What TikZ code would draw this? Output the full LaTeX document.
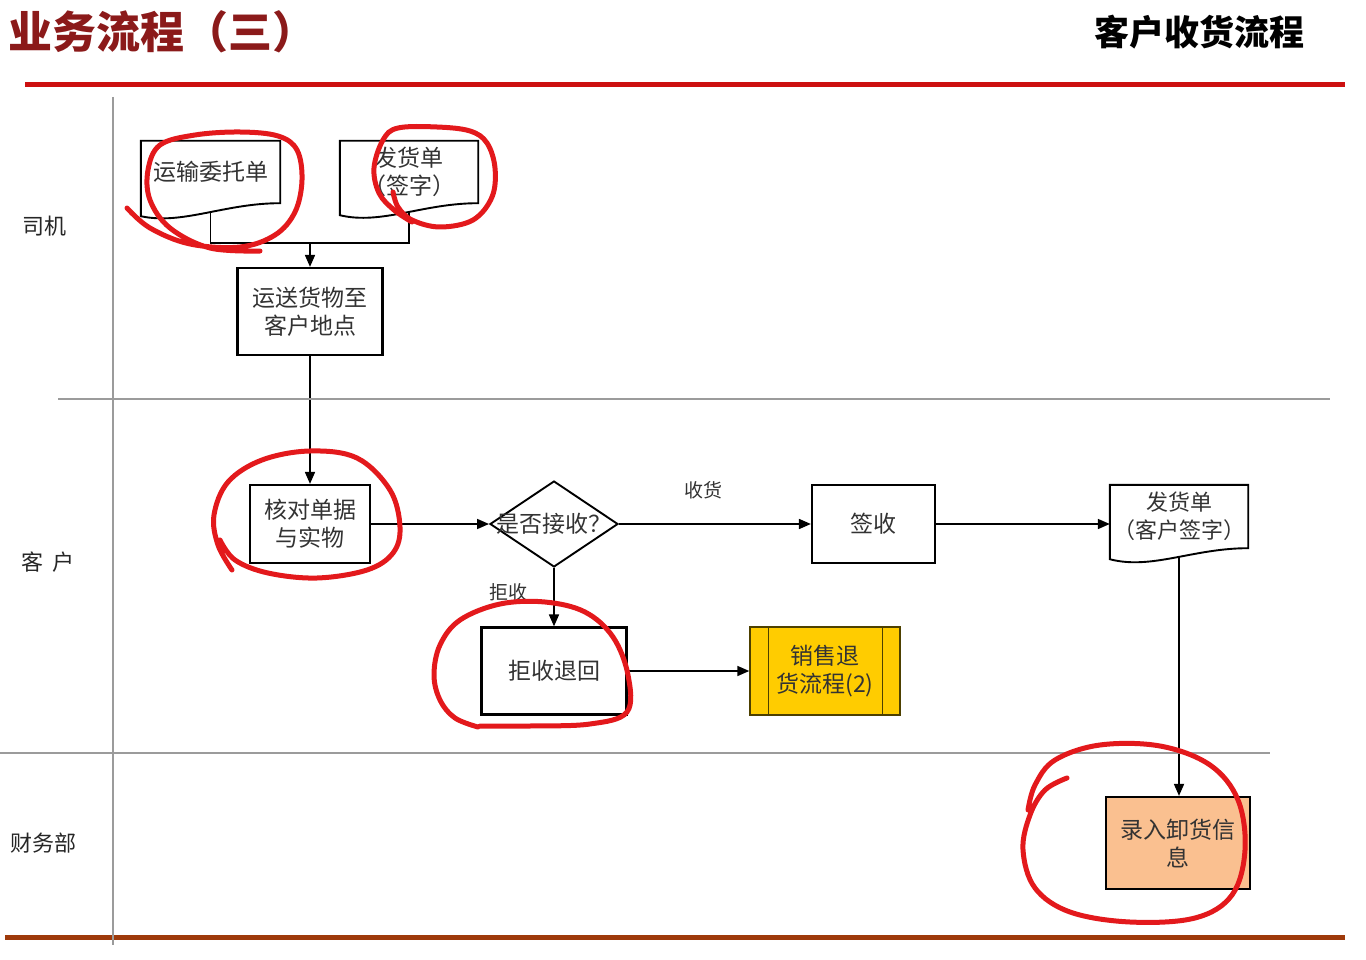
\documentclass[tikz,border=0pt]{standalone}
\usepackage{fontspec}
\setmainfont{Noto Sans CJK SC}
\usetikzlibrary{arrows.meta,shapes.geometric,calc}
\pgfdeclarelayer{background}
\pgfsetlayers{background,main}
\definecolor{headred}{HTML}{CC1010}
\definecolor{titlered}{HTML}{8B1A1A}
\definecolor{footbrown}{HTML}{9E3A0B}
\definecolor{lanegray}{HTML}{9B9B9B}
\definecolor{peach}{HTML}{FAC090}
\definecolor{gold}{HTML}{FFCC00}
\definecolor{ppborder}{HTML}{4D4000}
\definecolor{markred}{HTML}{E3191C}
\definecolor{txtc}{HTML}{333333}
\newcommand{\docwave}[2]{%
 \path[docline] (#1.north west) -- (#1.north east) -- (#1.south east)
  .. controls ($(#1.south east)!0.4!(#1.south west)$) and ($(#1.south west)!0.3!(#1.south east)+(0,22)$)
  .. ($(#1.south west)+(0,#2)$) -- cycle;}
\begin{document}
\begin{tikzpicture}[x=1pt,y=-1pt,
  every node/.style={inner sep=0pt, text=txtc},
  box/.style={draw=black, line width=2.2pt, fill=white, align=center, font=\fontsize{23}{28}\selectfont},
  docnode/.style={align=center, font=\fontsize{23}{28}\selectfont},
  docline/.style={draw=black, line width=1.9pt, fill=white},
  conn/.style={line width=1.7pt, -{Triangle[length=12pt,width=10pt]}},
  plainconn/.style={line width=1.7pt},
  lane/.style={draw=lanegray, line width=1.5pt},
  lanelabel/.style={font=\fontsize{22}{22}\selectfont, text=black!85},
  elabel/.style={font=\fontsize{19}{19}\selectfont},
  redmark/.style={draw=markred, line width=5pt, line cap=round, line join=round},
]
\useasboundingbox (0,0) rectangle (1366,960);

% header
\node[anchor=west, text=titlered, font=\fontsize{44}{44}\selectfont\bfseries] (t1) at (8,32) {业务流程（三）};
\node[text=black, font=\fontsize{35}{35}\selectfont\bfseries] (t2) at (1199,32) {客户收货流程};
\draw[line width=5pt, draw=headred] (25,85) -- (1345,85);
\draw[line width=5pt, draw=footbrown] (5,937) -- (1345,937);

% lanes
\draw[lane] (113,97) -- (113,945);
\draw[lane] (58,399) -- (1330,399);
\draw[lane] (0,753) -- (1270,753);
\node[lanelabel] (l1) at (44,226) {司机};
\node[lanelabel] (l2) at (48,562) {客\hspace{10pt}户};
\node[lanelabel] (l3) at (43,843) {财务部};

% nodes
\node[docnode, minimum width=139pt, minimum height=62pt] (d1) at (210.5,172) {运输委托单};
\node[docnode, minimum width=138pt, minimum height=62pt] (d2) at (409,172) {发货单\\（签字）};
\coordinate (j) at (310,243);
\node[box, minimum width=145pt, minimum height=87pt] (b1) at (310,311.5) {运送货物至\\客户地点};
\node[box, minimum width=120pt, minimum height=78pt] (b2) at (310,524) {核对单据\\与实物};
\node[draw=black, diamond, line width=1.9pt, fill=white, minimum width=128pt, minimum height=86pt, font=\fontsize{23}{28}\selectfont] (dm) at (554,524) {\makebox[0pt]{是否接收？}};
\node[box, minimum width=123pt, minimum height=78pt] (b3) at (873.5,524) {签收};
\node[docnode, minimum width=138pt, minimum height=63pt, font=\fontsize{22}{28}\selectfont] (d3) at (1179,516.5) {发货单\\（客户签字）};
\node[box, fill=peach, minimum width=144pt, minimum height=92pt] (b4) at (1178,843) {录入卸货信\\息};
\node[box, minimum width=145pt, minimum height=87pt] (b5) at (554,671) {拒收退回};
\node[box, fill=gold, draw=ppborder, line width=1.4pt, minimum width=150pt, minimum height=88pt] (pp) at (825,671) {销售退\\货流程(2)};
\draw[draw=ppborder, line width=1.4pt] ($(pp.north west)+(19,0)$) -- ($(pp.south west)+(19,0)$);
\draw[draw=ppborder, line width=1.4pt] ($(pp.north east)+(-18,0)$) -- ($(pp.south east)+(-18,0)$);

% connectors
\begin{pgfonlayer}{background}
\draw[plainconn] (d1.south) -- (d1.south |- j) -- (d2.south |- j) -- (d2.south);
\draw[conn] (j) -- (b1);
\draw[conn] (b1) -- (b2);
\draw[conn] (b2) -- (dm);
\draw[conn] (dm) -- node[elabel, pos=0.44, yshift=34pt] {收货} (b3);
\draw[conn] (b3.east) -- (b3.east -| d3.west);
\draw[conn] (d3.south) -- (d3.south |- b4.north);
\draw[conn] (dm) -- node[elabel, pos=0.42, xshift=-46pt] {拒收} (b5);
\draw[conn] (b5) -- (pp);
\docwave{d1}{13}
\docwave{d2}{12}
\docwave{d3}{11}
\end{pgfonlayer}

% red hand-drawn marks
\draw[redmark] plot[smooth, tension=0.6] coordinates {(127,208) (150,228) (190,244) (240,247) (275,235) (295,212) (302,180) (297,150) (278,136) (240,132) (195,135) (160,145) (148,170) (150,200) (170,228) (210,248) (260,251)};
\draw[redmark] plot[smooth, tension=0.6] coordinates {(393,192) (398,207) (412,220) (440,227) (473,220) (492,197) (495,168) (487,143) (470,131) (437,127) (398,128) (383,140) (374,168) (379,193) (394,210) (412,222)};
\draw[redmark] plot[smooth, tension=0.6] coordinates {(232,570) (218,545) (214,515) (228,482) (262,460) (310,451) (357,458) (390,490) (400,527) (393,553) (367,570) (317,578) (268,573) (235,560) (220,540)};
\draw[redmark] plot[smooth, tension=0.6] coordinates {(478,727) (455,718) (440,700) (434,675) (440,645) (460,620) (500,604) (545,602) (585,612) (613,637) (628,675) (627,712) (590,724) (530,726) (480,726)};
\draw[redmark] plot[smooth, tension=0.6] coordinates {(1067,778) (1045,790) (1030,815) (1023,850) (1035,888) (1070,912) (1130,922) (1195,918) (1232,895) (1245,850) (1238,800) (1210,765) (1160,746) (1100,745) (1055,760) (1035,785) (1028,810)};
\end{tikzpicture}
\end{document}
